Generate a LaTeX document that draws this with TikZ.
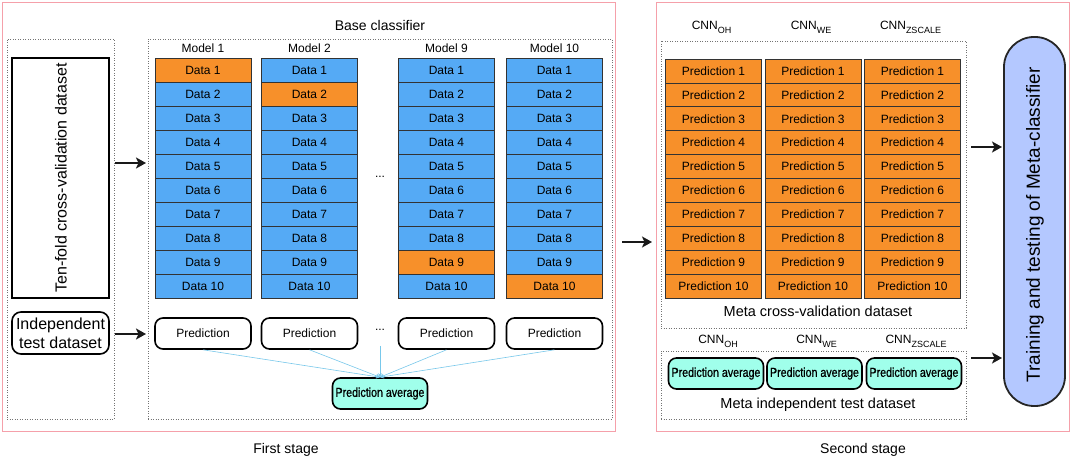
\documentclass[tikz,border=0pt]{standalone}
\usepackage{fontspec}
\setmainfont{Liberation Sans}
\newfontfamily\narrowfont[FakeStretch=0.82,FakeBold=0.8]{Liberation Sans}
\usetikzlibrary{arrows.meta}
\definecolor{cellblue}{RGB}{85,170,245}
\definecolor{cellorange}{RGB}{247,144,42}
\definecolor{avgcyan}{RGB}{160,255,235}
\definecolor{metablue}{RGB}{180,200,255}
\definecolor{framepink}{RGB}{245,160,170}
\definecolor{linkblue}{RGB}{120,200,235}
\newcommand\fsz[1]{\fontsize{#1}{#1}\selectfont}
\newcommand\cnnlbl[1]{CNN\raisebox{-3.5pt}{\fontsize{9}{9}\selectfont #1}}
\begin{document}
\begin{tikzpicture}[x=1pt,y=-1pt,
  frame/.style={draw=framepink,line width=1pt,inner sep=0pt},
  dotbox/.style={draw=black!55,line width=0.8pt,dash pattern=on 0.9pt off 1.6pt,inner sep=0pt},
  cell/.style={draw=black!80,line width=0.8pt,minimum width=96pt,minimum height=24pt,inner sep=0pt,font=\fsz{12}},
  bcell/.style={cell,fill=cellblue},
  ocell/.style={cell,fill=cellorange},
  mcell/.style={cell,fill=cellorange,minimum height=23.9pt},
  predbox/.style={draw=black,line width=1.6pt,rounded corners=8pt,minimum width=96pt,minimum height=31pt,inner sep=0pt,font=\fsz{12}},
  avgbox/.style={draw=black,line width=1.6pt,rounded corners=8pt,fill=avgcyan,minimum width=95pt,minimum height=31pt,inner sep=0pt,font=\narrowfont\fsz{13}},
  lbl/.style={inner sep=0pt,anchor=base,font=\fsz{12}},
  biglbl/.style={inner sep=0pt,anchor=base,font=\fsz{14}},
  bigarrow/.style={line width=2.4pt,draw=black!90,-{Stealth[length=10pt,width=11pt,inset=2.5pt]}},
  link/.style={draw=linkblue,line width=0.6pt,-{Stealth[length=4pt,width=4pt]}}
]
\useasboundingbox[fill=white] (0,0) rectangle (1072,457);

% stage frames
\node[frame,minimum width=613pt,minimum height=428pt] (stage1) at (308.5,217) {};
\node[frame,minimum width=413pt,minimum height=428pt] (stage2) at (862.5,217) {};
\node[biglbl] (firstlbl) at (286,453) {First stage};
\node[biglbl] (secondlbl) at (863,453) {Second stage};

% dotted containers
\node[dotbox,minimum width=107pt,minimum height=380pt] (leftbox) at (60.5,229) {};
\node[dotbox,minimum width=464pt,minimum height=380pt] (basebox) at (380,229) {};
\node[dotbox,minimum width=305pt,minimum height=287pt] (metacv) at (813.5,184.5) {};
\node[dotbox,minimum width=305pt,minimum height=68pt] (metaind) at (813.5,385) {};

\node[biglbl] (basetitle) at (380,31) {Base classifier};

% left inputs
\node[draw=black,line width=1.8pt,minimum width=97pt,minimum height=240pt,inner sep=0pt] (tenfold) at (60.5,178) {};
\node[rotate=90,font=\fsz{16},inner sep=0pt] (tenfoldtxt) at (61,178) {Ten-fold cross-validation dataset};
\node[draw=black,line width=1.6pt,rounded corners=9pt,minimum width=97pt,minimum height=42pt,inner sep=0pt,align=center,font=\fontsize{16}{19}\selectfont] (indep) at (60.5,333) {Independent\\test dataset};

% models
\foreach \m/\x/\o in {1/203/1,2/309.5/2,9/446.5/9,10/554.5/10}{
  \node[lbl] (model\m) at (\x,53) {Model \m};
  \foreach \i in {1,...,10}{
    \ifnum\i=\o
      \node[ocell] (d\m-\i) at (\x,{70+24*(\i-1)}) {Data \i};
    \else
      \node[bcell] (d\m-\i) at (\x,{70+24*(\i-1)}) {Data \i};
    \fi
  }
  \node[predbox] (p\m) at (\x,333.5) {Prediction};
}
\node[inner sep=0pt,font=\fsz{12}] (dots1) at (380,177) {...};
\node[inner sep=0pt,font=\fsz{12}] (dots2) at (380,330) {...};

\node[avgbox] (avg) at (380,393.5) {Prediction average};
\foreach \m in {1,2,9,10}{
  \draw[link] (p\m.south) -- (avg.north);
}
\draw[link] ([yshift=-15pt]dots2.south) -- (avg.north);

% arrows first stage
\coordinate (a1s) at (115,163);
\coordinate (a1e) at (146,163);
\coordinate (a2s) at (115,334);
\coordinate (a2e) at (146,334);
\draw[bigarrow] (a1s) -- (a1e);
\draw[bigarrow] (a2s) -- (a2e);
\coordinate (a3s) at (622,242);
\coordinate (a3e) at (652,242);
\draw[bigarrow] (a3s) -- (a3e);

% second stage
\foreach \c/\x/\lx/\t in {1/713.5/716/OH,2/813/814.5/WE,3/912.5/914/ZSCALE}{
  \node[lbl] (cnnup\c) at ({\x-2},30) {\cnnlbl{\t}};
  \foreach \i in {1,...,10}{
    \node[mcell] (mp\c-\i) at (\x,{71+23.9*(\i-1)}) {Prediction \i};
  }
  \node[lbl] (cnnlo\c) at ({\lx+2},344) {\cnnlbl{\t}};
  \node[avgbox] (mavg\c) at (\lx,373.5) {Prediction average};
}
\node[lbl,font=\fsz{14.5}] (metacvlbl) at (818,317) {Meta cross-validation dataset};
\node[lbl,font=\fsz{14.5}] (metaindlbl) at (818,408) {Meta independent test dataset};

% meta classifier
\node[draw=black!85,line width=1.8pt,fill=metablue,rounded corners=30pt,minimum width=61pt,minimum height=369pt,inner sep=0pt] (meta) at (1034.5,221.5) {};
\node[rotate=90,font=\fsz{19},inner sep=0pt] (metatxt) at (1035,225) {Training and testing of Meta-classifier};

\coordinate (a4s) at (971,147);
\coordinate (a4e) at (1002,147);
\coordinate (a5s) at (971,358);
\coordinate (a5e) at (1002,358);
\draw[bigarrow] (a4s) -- (a4e);
\draw[bigarrow] (a5s) -- (a5e);
\end{tikzpicture}
\end{document}
